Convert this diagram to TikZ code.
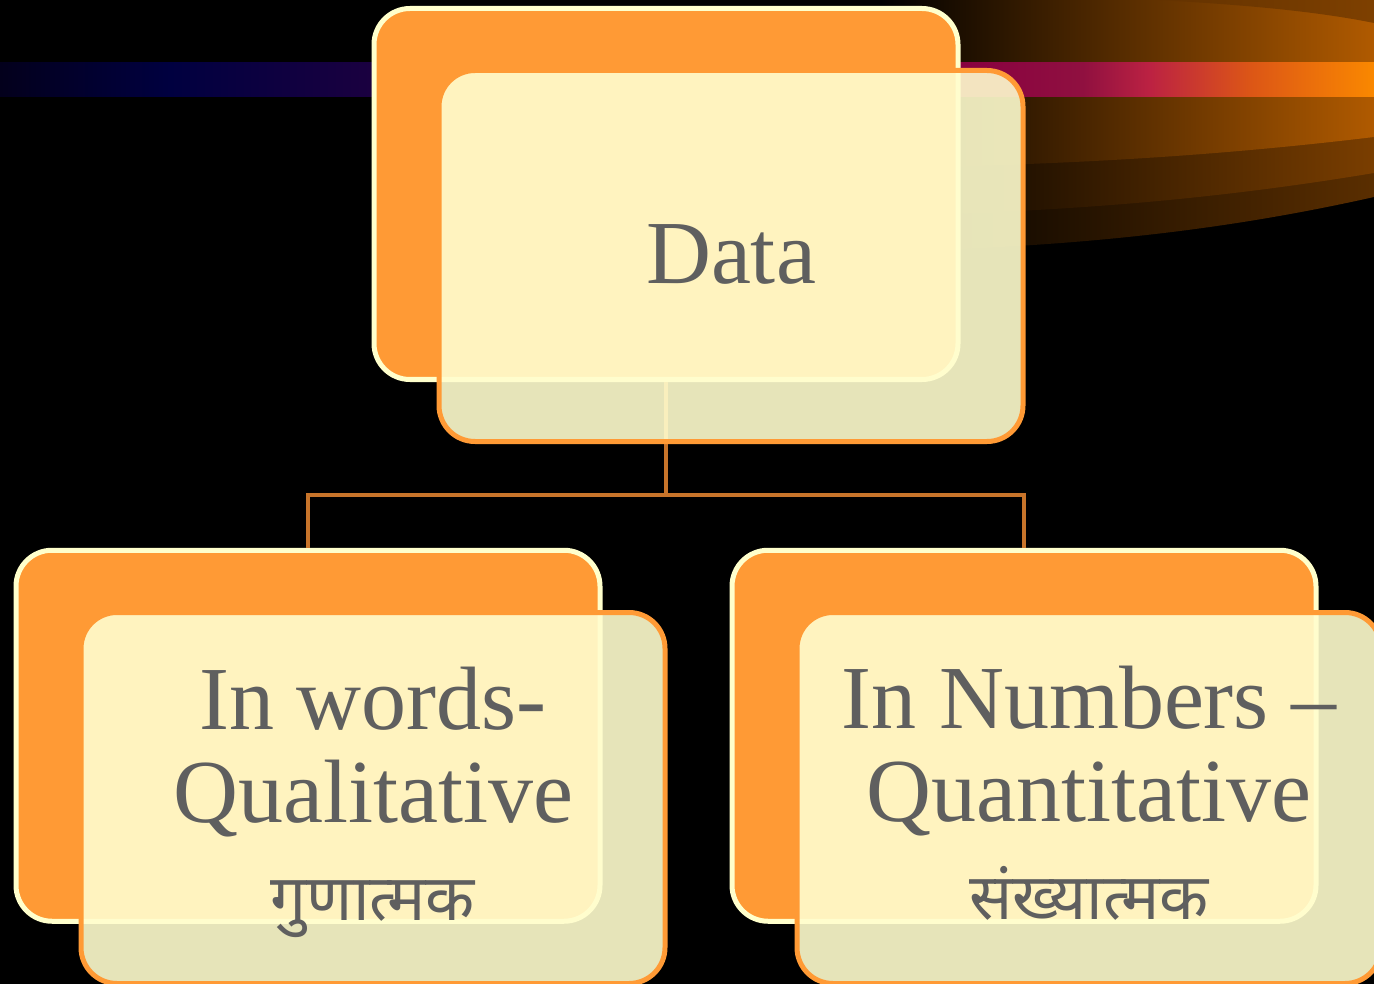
\documentclass[tikz,border=0pt]{standalone}
\usepackage{fontspec}
\setmainfont{Liberation Serif}
\newfontfamily\devfont[Script=Devanagari]{Noto Sans}
\newcommand\devtext[1]{{\devfont\fontsize{64pt}{93pt}\selectfont #1}}

\definecolor{boxorange}{HTML}{FF9A35}
\definecolor{boxcream}{HTML}{FFFFCC}
\definecolor{frontfill}{HTML}{FFFDCE}
\definecolor{connc}{HTML}{C8742A}
\definecolor{txtgray}{HTML}{5F5F5F}
\definecolor{bA}{HTML}{03001C}
\definecolor{bB}{HTML}{000040}
\definecolor{bC}{HTML}{1A0040}
\definecolor{bD}{HTML}{880040}
\definecolor{bE}{HTML}{901040}
\definecolor{bF}{HTML}{BC2242}
\definecolor{bG}{HTML}{DC5616}
\definecolor{bH}{HTML}{FA8800}
\definecolor{swA}{HTML}{B05A00}
\definecolor{swB}{HTML}{7A3E00}
\definecolor{swC}{HTML}{5A2E00}
\definecolor{capL}{HTML}{633200}
\definecolor{capR}{HTML}{7E4000}

\pgfdeclarehorizontalshading{bandshade}{100bp}{%
  color(0bp)=(bA); color(25bp)=(bA); color(31.19bp)=(bB); color(38.46bp)=(bC);
  color(59.93bp)=(bD); color(64.41bp)=(bE); color(66.85bp)=(bF);
  color(70.49bp)=(bG); color(75bp)=(bH); color(100bp)=(bH)}

\tikzset{
  backbox/.style={rectangle, rounded corners=36pt, fill=boxorange, draw=boxcream,
    line width=5pt, minimum width=584pt, minimum height=371pt, inner sep=0pt},
  frontbox/.style={rectangle, rounded corners=36pt, fill=frontfill, fill opacity=0.9,
    draw=boxorange, line width=5pt, minimum width=584pt, minimum height=371pt, inner sep=0pt},
  conn/.style={draw=connc, line width=4pt},
  txt/.style={text=txtgray, align=center, inner sep=0pt,
    font=\fontsize{90pt}{93pt}\selectfont}
}

\begin{document}
\begin{tikzpicture}[x=1pt,y=-1pt]
\useasboundingbox (0,0) rectangle (1374,984);
\fill[black] (0,0) rectangle (1374,984);

% top-right swooshes
\shade[left color=black, right color=swC]
  (880,0) -- (1374,0) -- (1374,197) .. controls (1200,236) and (1050,247) .. (880,252) -- cycle;
\shade[left color=black, right color=swB]
  (880,0) -- (1374,0) -- (1374,173) .. controls (1200,202) and (1050,212) .. (880,216) -- cycle;
\shade[left color=black, right color=swA]
  (880,0) -- (1374,0) -- (1374,137) .. controls (1200,158) and (1050,165) .. (880,168) -- cycle;
\shade[left color=capL, right color=capR]
  (1157,0) .. controls (1250,5) and (1320,12) .. (1374,23) -- (1374,0) -- cycle;

% horizontal band
\shade[shading=bandshade] (0,63) rectangle (1374,97);

% back boxes
\node[backbox] (tback) at (666,194) {};
\node[backbox] (lback) at (308,735.75) {};
\node[backbox] (rback) at (1024,735.75) {};

% connectors
\coordinate (bar) at (666,495);
\draw[conn] (tback.south) -- (bar) -| (lback.north);
\draw[conn] (bar) -| (rback.north);

% front boxes
\node[frontbox] (tfront) at (731,256) {};
\node[frontbox] (lfront) at (373,798) {};
\node[frontbox] (rfront) at (1089,798) {};

% texts
\node[txt] (tlabel) at (731,254) {Data};
\node[txt] (llabel) at (373,802) {In words-\\Qualitative\\[5pt]\devtext{गुणात्मक}};
\node[txt] (rlabel) at (1089,793) {In Numbers –\\Quantitative\\[5pt]\devtext{संख्यात्मक}};
\end{tikzpicture}
\end{document}
